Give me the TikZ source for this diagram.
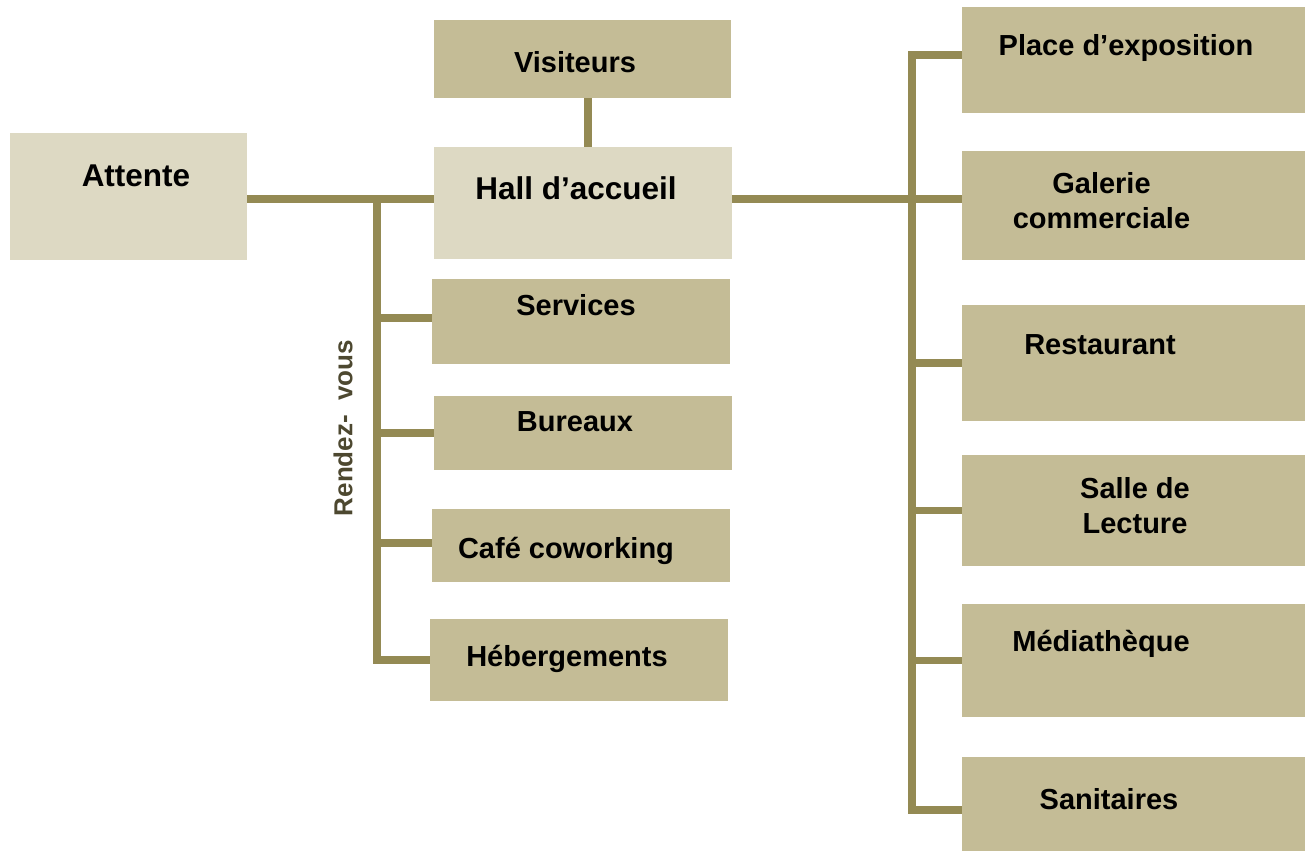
\documentclass[tikz,border=0pt]{standalone}
\usepackage{fontspec}
\setmainfont{Liberation Sans}
\definecolor{boxdark}{HTML}{C4BC96}
\definecolor{boxlight}{HTML}{DDD9C3}
\definecolor{linecol}{HTML}{948A54}
\definecolor{vtext}{HTML}{4D4830}
\tikzset{
  dbox/.style={rectangle, fill=boxdark, inner sep=0pt, draw=none},
  lbox/.style={rectangle, fill=boxlight, inner sep=0pt, draw=none},
  txt/.style={font=\bfseries\fontsize{29}{35}\selectfont, text=black, align=center, inner sep=0pt},
  bigtxt/.style={font=\bfseries\fontsize{31.5}{36}\selectfont, text=black, align=center, inner sep=0pt},
  conn/.style={draw=linecol, line width=7.5pt, line join=miter},
}
\begin{document}
\begin{tikzpicture}[x=1pt,y=-1pt]
\useasboundingbox (0,0) rectangle (1309,851);
% boxes
\node[lbox, minimum width=237, minimum height=127] (att) at (128.5,196.5) {};
\node[dbox, minimum width=297, minimum height=78] (vis) at (582.5,59) {};
\node[lbox, minimum width=298, minimum height=112] (hall) at (583,203) {};
\node[dbox, minimum width=298, minimum height=85] (srv) at (581,321.5) {};
\node[dbox, minimum width=298, minimum height=74] (bur) at (583,433) {};
\node[dbox, minimum width=298, minimum height=73] (caf) at (581,545.5) {};
\node[dbox, minimum width=298, minimum height=82] (heb) at (579,660) {};
\node[dbox, minimum width=343, minimum height=106] (pla) at (1133.5,60) {};
\node[dbox, minimum width=343, minimum height=109] (gal) at (1133.5,205.5) {};
\node[dbox, minimum width=343, minimum height=116] (res) at (1133.5,363) {};
\node[dbox, minimum width=343, minimum height=111] (sal) at (1133.5,510.5) {};
\node[dbox, minimum width=343, minimum height=113] (med) at (1133.5,660.5) {};
\node[dbox, minimum width=343, minimum height=94] (san) at (1133.5,804) {};
% texts
\node[bigtxt] (attT) at (136,176) {Attente};
\node[txt] (visT) at (575,62) {Visiteurs};
\node[bigtxt] (hallT) at (576,188) {Hall d’accueil};
\node[txt] (srvT) at (576,305) {Services};
\node[txt] (burT) at (575,422) {Bureaux};
\node[txt] (cafT) at (566,551) {Café coworking};
\node[txt] (hebT) at (567,659) {Hébergements};
\node[txt] (plaT) at (1126,48) {Place d’exposition};
\node[txt] (galT) at (1101.5,200.5) {Galerie\\commerciale};
\node[txt] (resT) at (1100,345) {Restaurant};
\node[txt] (salT) at (1135,505.5) {Salle de\\Lecture};
\node[txt] (medT) at (1101,644) {Médiathèque};
\node[txt] (sanT) at (1109,799) {Sanitaires};
\node[font=\bfseries\fontsize{26}{30}\selectfont, text=vtext, rotate=90, inner sep=0pt] (rdv) at (343,428) {Rendez-\ \ vous};
% junctions
\coordinate (jL) at (377,199);
\coordinate (jR) at (912,199);
\coordinate (jV) at (588,0);
% connectors
\draw[conn] (jV |- vis.south) -- (jV |- hall.north);
\draw[conn] (att.east |- jL) -- (hall.west |- jL);
\draw[conn] (jL) -- (jL |- heb.west) -- (heb.west);
\draw[conn] (jL |- 0,318) -- (srv.west |- 0,318);
\draw[conn] (jL |- bur.west) -- (bur.west);
\draw[conn] (jL |- 0,543) -- (caf.west |- 0,543);
\draw[conn] (hall.east |- jR) -- (gal.west |- jR);
\draw[conn] (pla.west |- 0,55) -- (jR |- 0,55) -- (jR |- 0,810) -- (san.west |- 0,810);
\draw[conn] (jR |- res.west) -- (res.west);
\draw[conn] (jR |- sal.west) -- (sal.west);
\draw[conn] (jR |- med.west) -- (med.west);
\end{tikzpicture}
\end{document}
